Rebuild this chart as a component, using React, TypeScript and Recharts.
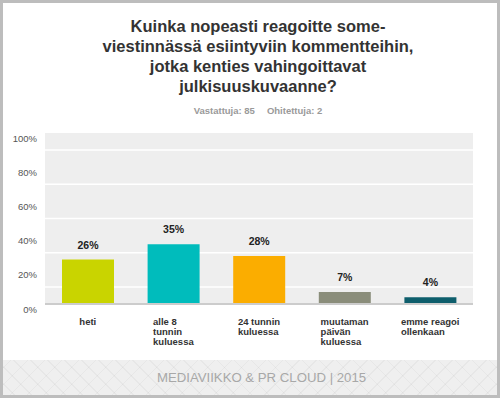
import React from "react";
import { BarChart, Bar, XAxis, YAxis, CartesianGrid, LabelList, Cell } from "recharts";

const categories = ["heti", "alle 8\ntunnin\nkuluessa", "24 tunnin\nkuluessa", "muutaman\npäivän\nkuluessa", "emme reagoi\nollenkaan"];
const values = [26, 35, 28, 7, 4];
const colors = ["#c9d400", "#00bcbc", "#fbad00", "#8a8d7a", "#0e5e6c"];
const yTicks = [0, 20, 40, 60, 80, 100];
const gridValues = [10, 20, 30, 40, 50, 60, 70, 80, 90];
const titleLines = ["Kuinka nopeasti reagoitte some-", "viestinnässä esiintyviin kommentteihin,", "jotka kenties vahingoittavat", "julkisuuskuvaanne?"];

const data = categories.map((c, i) => ({ name: c, value: values[i] }));

const FONT = "'Liberation Sans', Arial, sans-serif";
const TICK_FONT_SIZE = 9.5;

function measure(text: string): number {
  if (typeof document === "undefined") return text.length * 5;
  const c = document.createElement("canvas").getContext("2d");
  if (!c) return text.length * 5;
  c.font = `bold ${TICK_FONT_SIZE}px 'Liberation Sans'`;
  return c.measureText(text).width;
}

const XTick = (props: any) => {
  const { x, y, payload } = props;
  const lines: string[] = String(payload.value).split("\n");
  const w = Math.max(...lines.map(measure));
  const left = x - w / 2;
  return (
    <g>
      {lines.map((l, i) => (
        <text key={i} x={left} y={y + 21 + i * 10} textAnchor="start" fontSize={TICK_FONT_SIZE} fontWeight="bold" fill="#333" fontFamily={FONT}>
          {l}
        </text>
      ))}
    </g>
  );
};

const YTick = (props: any) => {
  const { x, y, payload } = props;
  return (
    <text x={x} y={y + 5} textAnchor="end" dominantBaseline="central" fontSize={9.5} fill="#555" fontFamily={FONT}>
      {payload.value + "%"}
    </text>
  );
};

export default function App() {
  return (
    <div style={{ position: "absolute", left: 0, top: 0, width: 500, height: 398, background: "#fff", overflow: "hidden", fontFamily: FONT }}>
      <div style={{ position: "absolute", left: 0, top: 0, width: 500, height: 398 }}>
        <BarChart width={500} height={398} data={data} margin={{ top: 133, right: 27, bottom: 44, left: 5 }} barSize={52}>
          <CartesianGrid fill="#eeeeee" stroke="#ffffff" strokeWidth={1.5} vertical={false} horizontalValues={gridValues} />
          <XAxis dataKey="name" height={50} interval={0} tickLine={false} tickSize={0} tickMargin={0} axisLine={{ stroke: "#cccccc", strokeWidth: 2 }} tick={<XTick />} />
          <YAxis width={40} domain={[0, 100]} ticks={yTicks} tickLine={false} axisLine={false} tickSize={0} tickMargin={8} tick={<YTick />} />
          <Bar dataKey="value" isAnimationActive={false}>
            {data.map((d, i) => (
              <Cell key={i} fill={colors[i]} />
            ))}
            <LabelList dataKey="value" position="top" offset={11} formatter={(v: any) => v + "%"} style={{ fontSize: 10.5, fontWeight: "bold", fill: "#222", fontFamily: FONT }} />
          </Bar>
        </BarChart>
      </div>
      <div style={{ position: "absolute", left: 0, top: 16, width: 516, textAlign: "center", fontSize: 16.5, fontWeight: "bold", color: "#333", lineHeight: "20px" }}>
        {titleLines.map((l, i) => (
          <div key={i}>{l}</div>
        ))}
      </div>
      <div style={{ position: "absolute", left: 0, top: 105, width: 516, textAlign: "center", fontSize: 9.5, fontWeight: "bold", color: "#9a9a9a", lineHeight: "12px" }}>
        <span>Vastattuja: 85</span>
        <span style={{ marginLeft: 12 }}>Ohitettuja: 2</span>
      </div>
      <div
        style={{
          position: "absolute",
          left: 0,
          top: 360,
          width: 500,
          height: 38,
          backgroundColor: "#efefef",
          backgroundImage:
            "repeating-linear-gradient(45deg, rgba(0,0,0,0.035) 0 1px, transparent 1px 12px), repeating-linear-gradient(-45deg, rgba(0,0,0,0.035) 0 1px, transparent 1px 12px)",
        }}
      />
      <div style={{ position: "absolute", left: 0, top: 370, width: 523, textAlign: "center", fontSize: 13.2, color: "#a8a8a8", lineHeight: "16px" }}>
        MEDIAVIIKKO &amp; PR CLOUD | 2015
      </div>
      <div style={{ position: "absolute", left: 0, top: 0, width: 500, height: 398, boxSizing: "border-box", border: "3px solid #bdbdbd", pointerEvents: "none" }} />
    </div>
  );
}
